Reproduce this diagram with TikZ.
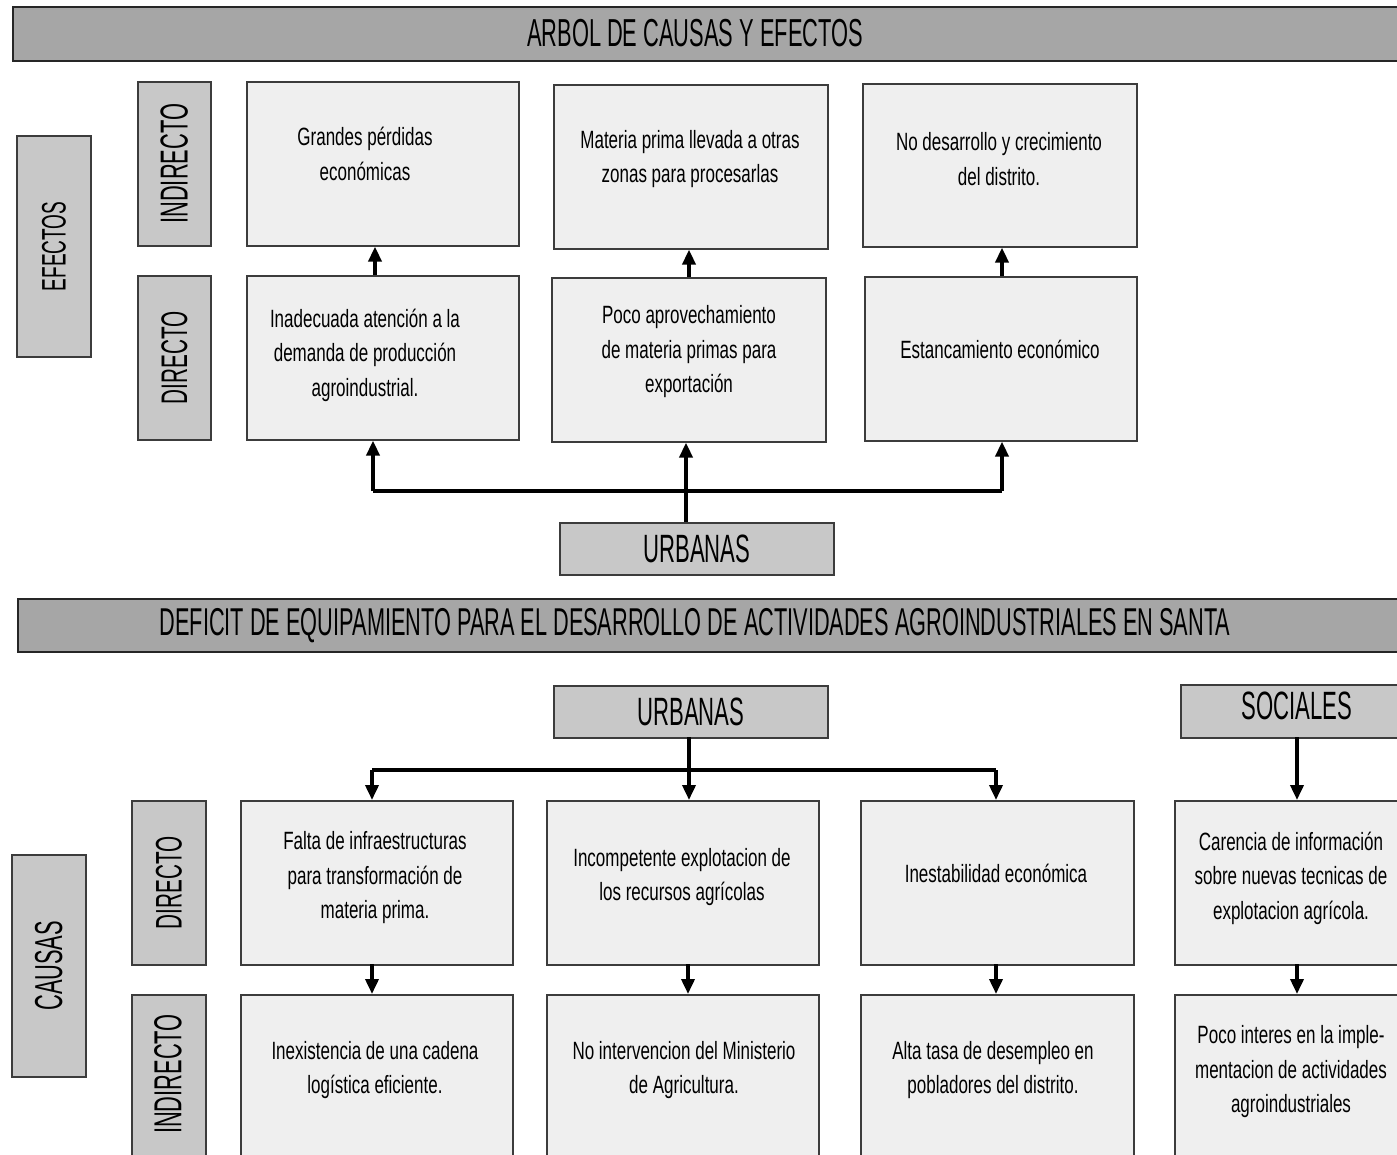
\documentclass[tikz,border=0pt]{standalone}
\usepackage{fontspec}
\setmainfont{Liberation Sans}
\newfontfamily\bodyf[FakeStretch=0.68]{Liberation Sans}
\newfontfamily\capf[FakeStretch=0.56]{Liberation Sans}
\usetikzlibrary{arrows.meta}
\definecolor{barc}{RGB}{166,166,166}
\definecolor{labc}{RGB}{200,200,200}
\definecolor{boxc}{RGB}{239,239,239}
\definecolor{bordc}{RGB}{60,60,60}
\begin{document}
\begin{tikzpicture}[x=1pt,y=-1pt,
  bar/.style={draw=black!85, line width=2pt, fill=barc},
  lab/.style={draw=bordc, line width=1.6pt, fill=labc, anchor=north west, inner sep=0pt},
  box/.style={draw=bordc, line width=1.6pt, fill=boxc, anchor=north west, inner sep=0pt},
  txt/.style={align=center, inner sep=0pt, font=\bodyf\fontsize{25}{34.5}\selectfont},
  captxt/.style={inner sep=0pt, font=\capf\fontsize{39.5}{39.5}\selectfont},
  vtxt/.style={inner sep=0pt, rotate=90, font=\capf\fontsize{37}{37}\selectfont},
  conn/.style={line width=3.6pt, black},
  arr/.style={line width=3.6pt, black, -{Triangle[width=13pt,length=15pt]}}]
\useasboundingbox (0,0) rectangle (1397,1155);
\clip (0,0) rectangle (1397,1155);
\fill[white] (0,0) rectangle (1397,1155);

% ---------- title bars
\node[bar, anchor=north west, minimum width=1400pt, minimum height=54pt, inner sep=0pt] (title) at (12,6) {};
\node[captxt, font=\capf\fontsize{39}{39}\selectfont] (titlet) at (695,33) {ARBOL DE CAUSAS Y EFECTOS};
\node[bar, anchor=north west, minimum width=1400pt, minimum height=53pt, inner sep=0pt] (deficit) at (17,598) {};
\node[captxt, font=\capf\fontsize{38.8}{38.8}\selectfont] (deficitt) at (695,626) {DEFICIT DE EQUIPAMIENTO PARA EL DESARROLLO DE ACTIVIDADES AGROINDUSTRIALES EN SANTA};

% ---------- effects side labels
\node[lab, minimum width=74pt, minimum height=221pt] (efectos) at (16,135) {};
\node[vtxt, font=\capf\fontsize{34}{34}\selectfont] (efectost) at (efectos.center) {EFECTOS};
\node[lab, minimum width=73pt, minimum height=164pt] (indA) at (137,81) {};
\node[vtxt, font=\capf\fontsize{39}{39}\selectfont] (indAt) at (indA.center) {INDIRECTO};
\node[lab, minimum width=73pt, minimum height=164pt] (dirA) at (137,275) {};
\node[vtxt] (dirAt) at (dirA.center) {DIRECTO};

% ---------- effects boxes
\node[box, minimum width=272pt, minimum height=164pt] (e1) at (246,81) {};
\node[box, minimum width=274pt, minimum height=164pt] (e2) at (553,84) {};
\node[box, minimum width=274pt, minimum height=163pt] (e3) at (862,83) {};
\node[box, minimum width=272pt, minimum height=164pt] (e4) at (246,275) {};
\node[box, minimum width=274pt, minimum height=164pt] (e5) at (551,277) {};
\node[box, minimum width=272pt, minimum height=164pt] (e6) at (864,276) {};

\node[txt] (e1t) at (365,154) {Grandes pérdidas\\económicas};
\node[txt] (e2t) at (690,159) {Materia prima llevada a otras\\zonas para procesarlas};
\node[txt] (e3t) at (999,159) {No desarrollo y crecimiento\\del distrito.};
\node[txt] (e4t) at (365,355) {Inadecuada atención a la\\demanda de producción\\agroindustrial.};
\node[txt] (e5t) at (689,352) {Poco aprovechamiento\\de materia primas para\\exportación};
\node[txt] (e6t) at (1000,349) {Estancamiento económico};

\draw[arr] (375,275) coordinate (a1) -- (a1 |- e1.south);
\draw[arr] (689,277) coordinate (a2) -- (a2 |- e2.south);
\draw[arr] (1002,276) coordinate (a3) -- (a3 |- e3.south);

% ---------- URBANAS (top)
\node[lab, minimum width=274pt, minimum height=52pt] (urbA) at (559,522) {};
\node[captxt] (urbAt) at (urbA.center) {URBANAS};
\coordinate (hl) at (373,491);
\coordinate (hr) at (1002,491);
\draw[conn] (hl) -- (hr);
\draw[arr] (hl) -- (hl |- e4.south);
\draw[arr] (hr) -- (hr |- e6.south);
\draw[arr] (686,522) coordinate (um) -- (um |- e5.south);

% ---------- causes
\node[lab, minimum width=274pt, minimum height=52pt] (urbB) at (553,685) {};
\node[captxt] (urbBt) at (urbB.center) {URBANAS};
\node[lab, minimum width=240pt, minimum height=53pt] (soc) at (1180,684) {};
\node[captxt] (soct) at (1297,706) {SOCIALES};

\node[lab, minimum width=74pt, minimum height=222pt] (causas) at (11,854) {};
\node[vtxt, font=\capf\fontsize{39}{39}\selectfont] (causast) at (causas.center) {CAUSAS};
\node[lab, minimum width=74pt, minimum height=164pt] (dirB) at (131,800) {};
\node[vtxt] (dirBt) at (dirB.center) {DIRECTO};
\node[lab, minimum width=74pt, minimum height=200pt] (indB) at (131,994) {};
\node[vtxt, font=\capf\fontsize{39}{39}\selectfont] (indBt) at (168,1074) {INDIRECTO};

\node[box, minimum width=272pt, minimum height=164pt] (c1) at (240,800) {};
\node[box, minimum width=272pt, minimum height=164pt] (c2) at (546,800) {};
\node[box, minimum width=273pt, minimum height=164pt] (c3) at (860,800) {};
\node[box, minimum width=240pt, minimum height=164pt] (c4) at (1174,800) {};
\node[box, minimum width=272pt, minimum height=200pt] (c5) at (240,994) {};
\node[box, minimum width=272pt, minimum height=200pt] (c6) at (546,994) {};
\node[box, minimum width=273pt, minimum height=200pt] (c7) at (860,994) {};
\node[box, minimum width=240pt, minimum height=200pt] (c8) at (1174,994) {};

\node[txt] (c1t) at (375,878) {Falta de infraestructuras\\para transformación de\\materia prima.};
\node[txt] (c2t) at (682,877) {Incompetente explotacion de\\los recursos agrícolas};
\node[txt] (c3t) at (996,873) {Inestabilidad económica};
\node[txt] (c4t) at (1291,878) {Carencia de información\\sobre nuevas tecnicas de\\explotacion agrícola.};
\node[txt] (c5t) at (375,1070) {Inexistencia de una cadena\\logística eficiente.};
\node[txt] (c6t) at (684,1070) {No intervencion del Ministerio\\de Agricultura.};
\node[txt] (c7t) at (993,1070) {Alta tasa de desempleo en\\pobladores del distrito.};
\node[txt] (c8t) at (1291,1072) {Poco interes en la imple-\\mentacion de actividades\\agroindustriales};

\coordinate (bl) at (372,770);
\coordinate (br) at (996,770);
\draw[conn] (689,737) coordinate (ub) -- (ub |- bl);
\draw[conn] (bl) -- (br);
\draw[arr] (bl) -- (bl |- c1.north);
\draw[arr] (ub |- bl) -- (ub |- c2.north);
\draw[arr] (br) -- (br |- c3.north);
\draw[arr] (1297,737) coordinate (sb) -- (sb |- c4.north);

\draw[arr] (372,964) coordinate (d1) -- (d1 |- c5.north);
\draw[arr] (688,964) coordinate (d2) -- (d2 |- c6.north);
\draw[arr] (996,964) coordinate (d3) -- (d3 |- c7.north);
\draw[arr] (1297,964) coordinate (d4) -- (d4 |- c8.north);
\end{tikzpicture}
\end{document}
